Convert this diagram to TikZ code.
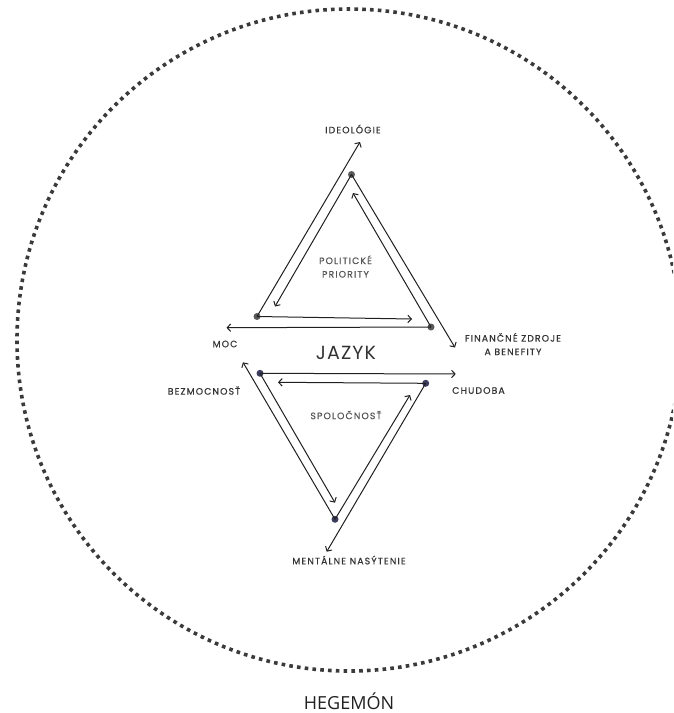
\documentclass[tikz,border=0pt]{standalone}
\usepackage{fontspec}
\setmainfont{Poppins}
\newfontfamily\capsfont[LetterSpace=12, FakeBold=0.5]{Poppins}
\newfontfamily\bigfont[LetterSpace=6]{Poppins}
\newfontfamily\hegfont{Open Sans}
\usetikzlibrary{arrows.meta}

\definecolor{ink}{HTML}{202020}
\definecolor{wordgray}{HTML}{333333}
\definecolor{softgray}{HTML}{555555}
\definecolor{dotgray}{HTML}{5A5A5A}
\definecolor{dotnavy}{HTML}{3C3C5E}
\definecolor{ringgray}{HTML}{3A3A3A}

\begin{document}
\begin{tikzpicture}[
    x=1pt, y=-1pt,
    word/.style={font=\capsfont\fontsize{9.3}{13.5}\selectfont, text=wordgray,
      align=center, inner sep=0pt},
    theme/.style={word, text=softgray},
    vertex/.style={circle, fill=dotgray, inner sep=0pt, minimum size=7pt},
    lowvertex/.style={vertex, fill=dotnavy},
    arrow/.style={-{Straight Barb[length=3.5pt, width=7.5pt]}, line width=1pt, draw=ink},
    ring/.style={draw=ringgray, line width=3.6pt, dash pattern=on 3.6pt off 4.2pt}
  ]
  \useasboundingbox (0,0) rectangle (673,713);
  \clip (0,0) rectangle (673,713);

  % hegemony ring
  \draw[ring] (349,340) ellipse [x radius=332, y radius=331];
  \node[font=\hegfont\fontsize{18}{20}\selectfont, text=ink] (hegemon) at (349,701) {HEGEMÓN};

  % upper triangle
  \node[vertex] (apex) at (351.5,174.5) {};
  \node[vertex] (left) at (257,316.5) {};
  \node[vertex] (right) at (431,327) {};

  \coordinate (toideo) at (360,142);
  \coordinate (apexin) at (275,306.5);
  \coordinate (leftin) at (412,319);
  \coordinate (tomoc) at (226.5,327.7);
  \coordinate (tofin) at (455,347.5);
  \coordinate (rightin) at (353,193);

  \draw[arrow] (left.center) -- (toideo);
  \draw[arrow] (apex.center) -- (apexin);
  \draw[arrow] (left.center) -- (leftin);
  \draw[arrow] (right.center) -- (tomoc);
  \draw[arrow] (apex.center) -- (tofin);
  \draw[arrow] (right.center) -- (rightin);

  \node[word] (ideo) at (353,129) {IDEOLÓGIE};
  \node[theme] (politics) at (345.5,266.5) {POLITICKÉ\\PRIORITY};
  \node[word] (moc) at (225,344) {MOC};
  \node[word] (finance) at (513,344) {FINANČNÉ ZDROJE\\A BENEFITY};
  \node[font=\bigfont\fontsize{19}{21}\selectfont, text=wordgray] (jazyk) at (346,353) {JAZYK};

  % lower triangle
  \node[lowvertex] (topleft) at (260,373.3) {};
  \node[lowvertex] (topright) at (425.7,383.3) {};
  \node[lowvertex] (bottom) at (335,519.3) {};

  \coordinate (tochud) at (455.7,374);
  \coordinate (toprightin) at (278,382.3);
  \coordinate (tobez) at (243,362.3);
  \coordinate (topleftin) at (335,502.7);
  \coordinate (bottomin) at (410,395);
  \coordinate (toment) at (326.7,551.7);

  \draw[arrow] (topleft.center) -- (tochud);
  \draw[arrow] (topright.center) -- (toprightin);
  \draw[arrow] (bottom.center) -- (tobez);
  \draw[arrow] (topleft.center) -- (topleftin);
  \draw[arrow] (bottom.center) -- (bottomin);
  \draw[arrow] (topright.center) -- (toment);

  \node[word] (bezmoc) at (204,390.5) {BEZMOCNOSŤ};
  \node[word] (chudoba) at (478.5,390.5) {CHUDOBA};
  \node[theme] (society) at (346,415) {SPOLOČNOSŤ};
  \node[word] (mental) at (349,560) {MENTÁLNE NASÝTENIE};
\end{tikzpicture}
\end{document}
